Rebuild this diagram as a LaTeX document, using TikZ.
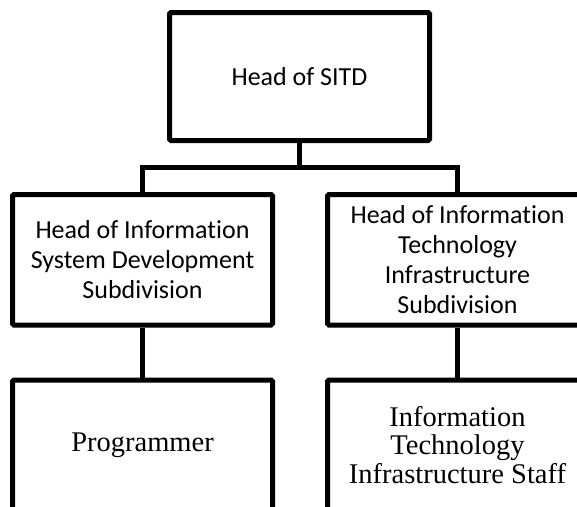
\documentclass[tikz,border=0pt]{standalone}
\usepackage{fontspec}
\setmainfont{Carlito}[Ligatures=NoCommon]
\newfontfamily\serifbox{Liberation Serif}
\begin{document}
\begin{tikzpicture}[x=1pt,y=-1pt,
  orgbox/.style={draw=black, line width=5pt, rounded corners=1.5pt, minimum width=260pt, inner sep=0pt, align=center},
  sanslabel/.style={font=\fontsize{26}{30}\selectfont},
  seriflabel/.style={font=\serifbox\fontsize{28.5}{28.5}\selectfont},
  link/.style={draw=black, line width=5pt}]
\useasboundingbox (0,0) rectangle (577,506);
\clip (0,0) rectangle (577,506);
\node[orgbox, sanslabel, minimum height=128pt] (top) at (299.5,76.5) {Head of SITD};
\node[orgbox, sanslabel, minimum height=130.5pt] (ml) at (142.5,259.75) {Head of Information\\System Development\\Subdivision};
\node[orgbox, sanslabel, minimum height=130.5pt] (mr) at (457.5,259.75) {Head of Information\\Technology\\Infrastructure\\Subdivision};
\node[orgbox, seriflabel, minimum height=130pt] (bl) at (142.5,445) {Programmer};
\node[orgbox, seriflabel, minimum height=130pt] (br) at (457.5,445) {Information\\Technology\\Infrastructure Staff};
\coordinate (j) at (299.5,167.5);
\draw[link] (top.south) -- (j);
\draw[link] (ml.north) |- (j) -| (mr.north);
\draw[link] (ml.south) -- (bl.north);
\draw[link] (mr.south) -- (br.north);
\end{tikzpicture}
\end{document}
